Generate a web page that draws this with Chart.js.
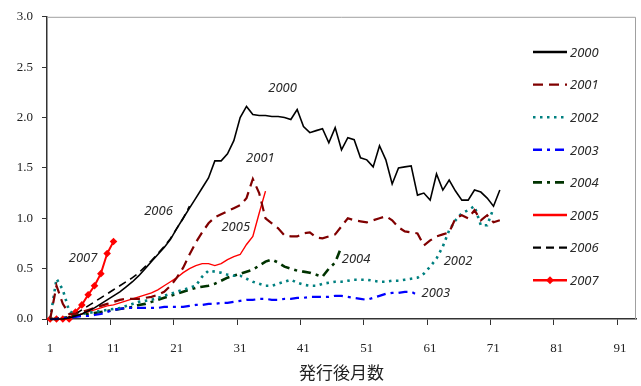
<!DOCTYPE html>
<html>
<head>
<meta charset="utf-8">
<script src="https://cdn.jsdelivr.net/npm/chart.js@4.4.1/dist/chart.umd.min.js"></script>
<style>
  html, body { margin: 0; padding: 0; background: #fff; }
  #wrap { width: 641px; height: 386px; }
</style>
</head>
<body>
<div id="wrap"><canvas id="chart" width="641" height="386"></canvas></div>
<script>
// =============================
// DATA (月別の値, 1ヶ月目から)
// =============================
const years = ["2000", "2001", "2002", "2003", "2004", "2005", "2006", "2007"];
const xTickLabels = ["1", "11", "21", "31", "41", "51", "61", "71", "81", "91"];
const yTickValues = [0, 0.5, 1.0, 1.5, 2.0, 2.5, 3.0];
const xTitle = "発行後月数";

const s2000 = [0, 0, 0, 0.01, 0.03, 0.05, 0.08, 0.11, 0.15, 0.19,
  0.23, 0.27, 0.32, 0.37, 0.43, 0.5, 0.57, 0.64, 0.71, 0.79,
  0.9, 1.0, 1.1, 1.2, 1.3, 1.4, 1.57, 1.57, 1.64, 1.77,
  2.0, 2.11, 2.03, 2.02, 2.02, 2.01, 2.01, 2.0, 1.98, 2.08,
  1.91, 1.85, 1.87, 1.89, 1.75, 1.9, 1.68, 1.8, 1.78, 1.6,
  1.58, 1.51, 1.72, 1.58, 1.34, 1.5, 1.51, 1.52, 1.23, 1.25,
  1.18, 1.44, 1.28, 1.38, 1.27, 1.18, 1.18, 1.28, 1.26, 1.2,
  1.12, 1.28];
const s2001 = [0, 0.33, 0.15, 0.05, 0.05, 0.07, 0.09, 0.11, 0.13, 0.15,
  0.17, 0.19, 0.2, 0.2, 0.2, 0.21, 0.22, 0.24, 0.27, 0.33,
  0.41, 0.51, 0.64, 0.76, 0.86, 0.95, 1.01, 1.04, 1.07, 1.1,
  1.13, 1.2, 1.39, 1.25, 1.0, 0.95, 0.9, 0.83, 0.82, 0.82,
  0.85, 0.86, 0.81, 0.8, 0.82, 0.84, 0.92, 1.0, 0.98, 0.97,
  0.96, 0.98, 1.0, 1.02, 0.98, 0.91, 0.87, 0.86, 0.85, 0.73,
  0.78, 0.82, 0.84, 0.86, 1.0, 1.03, 1.0, 1.08, 0.98, 1.03,
  0.96, 0.98];
const s2002 = [0, 0.4, 0.29, 0.08, 0.04, 0.05, 0.06, 0.07, 0.08, 0.09,
  0.1, 0.11, 0.13, 0.15, 0.17, 0.18, 0.19, 0.21, 0.23, 0.25,
  0.27, 0.29, 0.31, 0.33, 0.42, 0.48, 0.47, 0.46, 0.44, 0.43,
  0.43, 0.4, 0.37, 0.35, 0.33, 0.33, 0.35, 0.37, 0.39, 0.36,
  0.34, 0.33, 0.33, 0.35, 0.36, 0.37, 0.37, 0.38, 0.39, 0.39,
  0.39, 0.38, 0.37, 0.37, 0.38, 0.38, 0.39, 0.4, 0.41, 0.45,
  0.52, 0.6, 0.72, 0.88, 0.98, 1.05, 1.08, 1.12, 0.93, 0.93,
  1.1];
const s2003 = [0, 0, 0.01, 0.01, 0.02, 0.03, 0.03, 0.04, 0.05, 0.07,
  0.09, 0.1, 0.11, 0.11, 0.11, 0.11, 0.11, 0.11, 0.12, 0.12,
  0.12, 0.12, 0.13, 0.14, 0.14, 0.15, 0.15, 0.16, 0.16, 0.17,
  0.18, 0.19, 0.19, 0.2, 0.2, 0.19, 0.19, 0.2, 0.2, 0.21,
  0.21, 0.22, 0.22, 0.22, 0.22, 0.23, 0.23, 0.22, 0.21, 0.2,
  0.19, 0.21, 0.23, 0.25, 0.26, 0.26, 0.27, 0.27, 0.24];
const s2004 = [0, 0, 0.01, 0.02, 0.03, 0.04, 0.05, 0.06, 0.07, 0.08,
  0.09, 0.1, 0.11, 0.12, 0.14, 0.15, 0.17, 0.19, 0.21, 0.23,
  0.25, 0.27, 0.29, 0.31, 0.32, 0.33, 0.35, 0.38, 0.41, 0.43,
  0.45, 0.47, 0.49, 0.53, 0.57, 0.59, 0.56, 0.52, 0.5, 0.48,
  0.47, 0.46, 0.44, 0.42, 0.5, 0.56, 0.72];
const s2005 = [0, 0, 0, 0.01, 0.03, 0.05, 0.07, 0.09, 0.11, 0.13,
  0.14, 0.16, 0.18, 0.2, 0.22, 0.24, 0.26, 0.29, 0.33, 0.37,
  0.41, 0.46, 0.5, 0.53, 0.55, 0.55, 0.53, 0.55, 0.59, 0.62,
  0.64, 0.74, 0.82, 1.05, 1.27];
const s2006 = [0, 0, 0, 0.02, 0.05, 0.09, 0.13, 0.17, 0.21, 0.25,
  0.29, 0.33, 0.37, 0.41, 0.46, 0.52, 0.58, 0.65, 0.72, 0.8,
  0.9, 1.0, 1.12];
const s2007 = [0, 0, 0, 0, 0.07, 0.14, 0.24, 0.33, 0.45, 0.65, 0.77];

const seriesValues = [s2000, s2001, s2002, s2003, s2004, s2005, s2006, s2007];

// =============================
// STYLE
// =============================
const lineStyles = [
  { color: "#000000", width: 1.6, dash: [] },
  { color: "#800000", width: 2.2, dash: [10, 6] },
  { color: "#008080", width: 2.6, dash: [2.5, 4.5] },
  { color: "#0000ff", width: 2.2, dash: [9, 5, 3, 5] },
  { color: "#003300", width: 2.6, dash: [9, 5, 3, 5] },
  { color: "#ff0000", width: 1.4, dash: [] },
  { color: "#000000", width: 1.6, dash: [8, 5] },
  { color: "#ff0000", width: 2, dash: [], marker: true }
];

// 図中ラベル (データ座標)
const inlineLabels = [
  { text: "2000", x: 37.7, y: 2.29 },
  { text: "2001", x: 34.2, y: 1.6 },
  { text: "2006", x: 18.1, y: 1.07 },
  { text: "2005", x: 30.3, y: 0.91 },
  { text: "2007", x: 6.2, y: 0.6 },
  { text: "2004", x: 49.3, y: 0.59 },
  { text: "2002", x: 65.4, y: 0.57 },
  { text: "2003", x: 61.9, y: 0.26 }
];

const legendBox = { x: 533, y: 52, len: 34, step: 32.6 };
const labelFont = 'italic 13px "Noto Sans", "DejaVu Sans", sans-serif';
const serifFont = "Liberation Serif";

// =============================
// PLUGINS
// =============================
const framePlugin = {
  id: "frame",
  beforeDatasetsDraw(chart) {
    const { ctx, chartArea: a } = chart;
    ctx.save();
    ctx.strokeStyle = "#a0a0a0";
    ctx.lineWidth = 1;
    ctx.beginPath();
    ctx.moveTo(a.left, a.top + 0.5);
    ctx.lineTo(a.right - 0.5, a.top + 0.5);
    ctx.lineTo(a.right - 0.5, a.bottom);
    ctx.stroke();
    ctx.restore();
  }
};

function drawDiamond(ctx, x, y, r) {
  ctx.beginPath();
  ctx.moveTo(x, y - r);
  ctx.lineTo(x + r, y);
  ctx.lineTo(x, y + r);
  ctx.lineTo(x - r, y);
  ctx.closePath();
  ctx.fill();
}

const labelsPlugin = {
  id: "inlineLabels",
  afterDatasetsDraw(chart) {
    const { ctx, scales } = chart;
    ctx.save();
    ctx.font = labelFont;
    ctx.fillStyle = "#2a2a2a";
    ctx.textAlign = "center";
    ctx.textBaseline = "middle";
    inlineLabels.forEach((l) => {
      ctx.fillText(l.text, scales.x.getPixelForValue(l.x), scales.y.getPixelForValue(l.y));
    });

    // 凡例
    chart.data.datasets.forEach((ds, i) => {
      const y = legendBox.y + i * legendBox.step;
      const x0 = legendBox.x, x1 = legendBox.x + legendBox.len;
      ctx.strokeStyle = ds.borderColor;
      ctx.lineWidth = Math.max(ds.borderWidth, 2.4);
      ctx.setLineDash(ds.borderDash);
      ctx.beginPath();
      ctx.moveTo(x0, y);
      ctx.lineTo(x1, y);
      ctx.stroke();
      ctx.setLineDash([]);
      if (ds.pointRadius > 0) {
        ctx.fillStyle = ds.borderColor;
        drawDiamond(ctx, (x0 + x1) / 2, y, 4);
      }
      ctx.fillStyle = "#2a2a2a";
      ctx.textAlign = "left";
      ctx.fillText(ds.label, x1 + 3, y + 1);
    });
    ctx.restore();
  }
};

// =============================
// CHART
// =============================
const datasets = years.map((yr, i) => {
  const st = lineStyles[i];
  return {
    label: yr,
    data: seriesValues[i].map((v, k) => ({ x: k + 1, y: v })),
    borderColor: st.color,
    backgroundColor: st.color,
    borderWidth: st.width,
    borderDash: st.dash,
    tension: 0,
    fill: false,
    clip: false,
    pointRadius: st.marker ? 3.8 : 0,
    pointHoverRadius: 0,
    pointStyle: "rectRot",
    pointBorderWidth: 0
  };
});

new Chart(document.getElementById("chart"), {
  type: "line",
  data: { datasets },
  plugins: [framePlugin, labelsPlugin],
  options: {
    responsive: false,
    animation: false,
    devicePixelRatio: 1,
    layout: { padding: { top: 15, right: 5, left: 0, bottom: 0 } },
    plugins: { legend: { display: false }, tooltip: { enabled: false } },
    scales: {
      x: {
        type: "linear",
        min: 0.5,
        max: 93.5,
        afterBuildTicks: (s) => { s.ticks = xTickLabels.map((t, i) => ({ value: 0.5 + i * 10 })); },
        afterFit: (s) => { s.height = 67; },
        ticks: {
          autoSkip: false,
          maxRotation: 0,
          padding: 16,
          labelOffset: 3,
          color: "#222",
          font: { family: serifFont, size: 13 },
          callback: (v, i) => xTickLabels[i]
        },
        grid: { drawOnChartArea: false, drawTicks: true, tickLength: 6, color: "#333", lineWidth: 1 },
        border: { display: true, color: "#333", width: 1.5 },
        title: {
          display: true,
          text: xTitle,
          color: "#222",
          font: { family: '"Noto Sans CJK JP"', size: 17 },
          padding: { top: 0, bottom: 3 }
        }
      },
      y: {
        min: 0,
        max: 3,
        afterBuildTicks: (s) => { s.ticks = yTickValues.map((v) => ({ value: v })); },
        afterFit: (s) => { s.width = 47; },
        ticks: {
          padding: 9,
          color: "#222",
          font: { family: serifFont, size: 13 },
          callback: (v) => Number(v).toFixed(1)
        },
        grid: { drawOnChartArea: false, drawTicks: true, tickLength: 5, color: "#333", lineWidth: 1 },
        border: { display: true, color: "#333", width: 1.5 }
      }
    }
  }
});
</script>
</body>
</html>
